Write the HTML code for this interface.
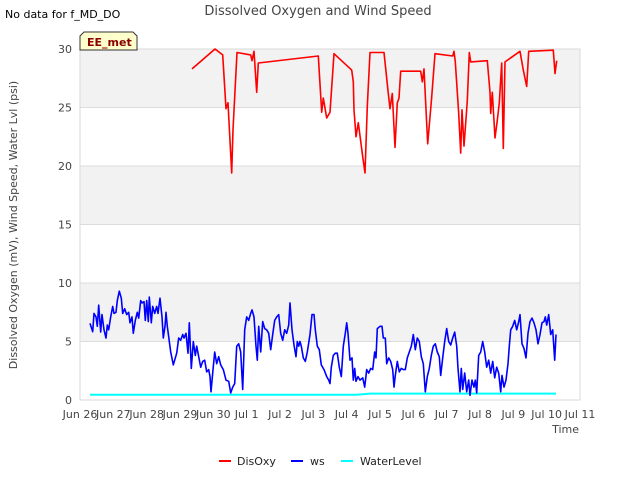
<!DOCTYPE html>
<html><head><meta charset="utf-8"><style>
body{margin:0;background:#fff;font-family:"Liberation Sans","DejaVu Sans",sans-serif}
svg text{font-family:"DejaVu Sans","Liberation Sans",sans-serif}
</style></head><body>
<svg id="c" width="640" height="480" xmlns="http://www.w3.org/2000/svg">
<rect width="640" height="480" fill="#fff"/>
<g id="bands"></g>
<g id="grid"></g>
<rect x="80" y="49" width="500" height="351" fill="none" stroke="#d9d9d9"/>
<g id="ticks"></g>
<g id="series"></g>
<text x="318" y="15" font-size="13" text-anchor="middle" fill="#444">Dissolved Oxygen and Wind Speed</text>
<text x="5" y="18" font-size="11" fill="#000">No data for f_MD_DO</text>
<g>
<path d="M80,50 L80,36 L84,32 L133,32 L137,36 L137,50 Z" fill="#ffffcc" stroke="#333"/>
<text x="87" y="46" font-size="11" font-weight="bold" fill="#8b0000">EE_met</text>
</g>
<text transform="translate(17,225) rotate(-90)" font-size="11" text-anchor="middle" fill="#444">Dissolved Oxygen (mV), Wind Speed, Water Lvl (psi)</text>
<text x="579" y="433" font-size="11" text-anchor="end" fill="#444">Time</text>
<g>
<g><line x1="219" y1="461" x2="231" y2="461" stroke="#f00" stroke-width="2"/><text x="237" y="465" font-size="11" fill="#222">DisOxy</text></g>
<g><line x1="291" y1="461" x2="303" y2="461" stroke="#00f" stroke-width="2"/><text x="310" y="465" font-size="11" fill="#222">ws</text></g>
<g><line x1="341" y1="461" x2="353" y2="461" stroke="#0ff" stroke-width="2"/><text x="360" y="465" font-size="11" fill="#222">WaterLevel</text></g>
</g>
</svg>
<script>
const xTickLabels=["Jun 26","Jun 27","Jun 28","Jun 29","Jun 30","Jul 1","Jul 2","Jul 3","Jul 4","Jul 5","Jul 6","Jul 7","Jul 8","Jul 9","Jul 10","Jul 11"];
const yTicks=[0,5,10,15,20,25,30];
const doDays=[3.36,4.05,4.28,4.38,4.44,4.55,4.59,4.71,5.12,5.16,5.22,5.30,5.35,7.15,7.25,7.30,7.40,7.50,7.62,8.15,8.20,8.22,8.28,8.35,8.48,8.55,8.62,8.70,9.12,9.25,9.30,9.37,9.45,9.52,9.57,9.62,10.22,10.27,10.32,10.43,10.55,10.65,11.18,11.22,11.26,11.36,11.42,11.46,11.52,11.56,11.62,11.68,11.72,12.22,12.30,12.32,12.37,12.45,12.52,12.58,12.65,12.70,12.75,13.20,13.30,13.40,13.46,14.20,14.25,14.30];
const doVals=[28.3,30.0,29.5,24.9,25.4,19.4,23.1,29.7,29.5,29.0,29.8,26.3,28.8,29.4,24.6,25.8,24.1,24.6,29.6,28.2,27.2,24.8,22.5,23.7,20.8,19.4,25.1,29.7,29.7,26.2,24.9,26.2,21.6,25.4,25.8,28.1,28.1,27.2,28.3,21.9,25.9,29.6,29.4,29.8,28.9,24.5,21.1,24.8,21.7,23.2,25.6,29.7,28.9,29.0,26.3,24.5,26.3,22.4,23.9,25.4,28.8,21.5,28.9,29.8,28.2,26.8,29.8,29.9,27.9,29.0];
const wsDays=[0.30,0.38,0.42,0.48,0.52,0.56,0.62,0.66,0.72,0.78,0.82,0.86,0.92,0.98,1.02,1.08,1.12,1.18,1.24,1.28,1.34,1.40,1.46,1.50,1.56,1.60,1.66,1.72,1.76,1.82,1.86,1.92,1.96,2.00,2.05,2.08,2.14,2.18,2.24,2.30,2.34,2.40,2.46,2.50,2.55,2.58,2.62,2.66,2.72,2.80,2.90,2.96,3.02,3.08,3.12,3.18,3.24,3.28,3.34,3.40,3.46,3.50,3.56,3.62,3.68,3.74,3.80,3.86,3.90,3.93,3.98,4.04,4.10,4.16,4.22,4.30,4.38,4.46,4.52,4.58,4.64,4.70,4.76,4.82,4.88,4.94,5.00,5.06,5.12,5.16,5.22,5.28,5.32,5.36,5.42,5.48,5.54,5.60,5.66,5.72,5.78,5.84,5.90,5.96,6.02,6.08,6.14,6.20,6.26,6.30,6.36,6.42,6.48,6.52,6.56,6.60,6.64,6.70,6.76,6.82,6.90,6.96,7.02,7.06,7.12,7.18,7.24,7.32,7.40,7.46,7.50,7.54,7.60,7.66,7.72,7.78,7.84,7.90,7.96,8.00,8.04,8.10,8.16,8.20,8.24,8.28,8.34,8.40,8.48,8.54,8.60,8.66,8.72,8.78,8.84,8.88,8.92,9.00,9.06,9.10,9.16,9.20,9.26,9.32,9.38,9.42,9.46,9.52,9.58,9.64,9.70,9.76,9.82,9.88,9.94,10.00,10.06,10.12,10.18,10.24,10.30,10.36,10.42,10.48,10.54,10.60,10.66,10.72,10.78,10.82,10.88,10.94,11.00,11.06,11.12,11.18,11.24,11.30,11.34,11.40,11.44,11.48,11.54,11.60,11.66,11.70,11.76,11.82,11.86,11.90,11.96,12.02,12.08,12.14,12.20,12.26,12.32,12.38,12.44,12.50,12.56,12.62,12.66,12.72,12.78,12.84,12.88,12.92,12.98,13.04,13.10,13.16,13.20,13.26,13.32,13.38,13.44,13.50,13.56,13.62,13.68,13.74,13.80,13.86,13.92,13.96,14.00,14.06,14.12,14.18,14.24,14.28];
const wsVals=[6.55,5.84,7.4,7.1,6.3,8.1,5.8,7.3,6.0,5.3,6.4,6.0,7.1,8.0,7.4,7.5,8.5,9.3,8.7,7.4,7.8,7.3,7.5,6.6,7.1,5.7,6.8,7.5,7.0,8.5,8.3,8.4,6.8,8.5,6.7,8.8,6.6,8.0,7.4,8.0,7.4,8.7,7.1,5.3,6.3,7.5,6.3,5.4,4.1,3.0,4.0,5.3,5.1,5.6,5.3,5.7,4.0,6.6,2.7,5.0,3.8,4.6,3.7,2.8,3.3,3.4,2.4,2.6,2.0,0.7,2.3,4.1,3.1,3.7,3.0,2.6,1.7,1.6,0.6,1.1,1.4,4.6,4.8,4.1,0.9,6.0,7.1,6.8,7.4,7.7,7.1,4.6,3.4,6.3,4.1,6.7,6.1,6.0,5.7,4.3,5.6,6.8,7.1,7.3,5.7,5.1,6.0,5.7,6.4,8.3,6.0,4.7,3.7,5.0,4.6,5.0,4.6,3.6,3.3,4.1,5.6,7.3,7.3,6.0,4.6,4.3,3.0,2.6,2.0,1.7,1.4,2.8,3.8,4.0,4.0,2.8,2.0,4.6,5.7,6.6,5.7,3.4,3.6,1.7,2.7,1.6,2.0,1.7,1.9,1.1,2.6,2.3,2.7,2.6,4.1,3.6,6.1,6.3,6.3,5.3,5.3,3.1,3.6,3.3,2.6,1.1,2.1,3.3,2.4,2.7,2.6,2.6,3.6,4.1,4.6,5.6,4.3,5.3,5.0,3.7,3.1,0.7,2.0,2.7,3.8,4.6,4.8,4.1,3.7,2.1,3.6,5.0,6.1,5.0,4.7,5.3,5.8,4.6,2.7,0.7,2.7,0.9,2.3,0.7,1.7,0.4,1.7,1.1,1.7,0.6,3.8,4.1,5.0,4.1,2.8,3.4,2.3,3.3,1.9,2.8,2.3,0.7,2.1,1.1,1.7,3.1,4.6,6.0,6.3,6.8,6.0,6.7,7.3,4.8,4.4,3.6,5.7,6.7,7.0,6.6,6.0,4.8,5.6,6.6,6.7,7.1,6.4,7.3,5.6,6.0,3.4,5.6];
const wlDays=[0.30,8.3,8.7,14.28];
const wlVals=[0.45,0.45,0.55,0.55];

const NS="http://www.w3.org/2000/svg";
const X0=80,X1=580,Y0=400,Y1=49,DMAX=15,VMAX=30;
const xs=d=>X0+(X1-X0)*d/DMAX;
const ys=v=>Y0-(Y0-Y1)*v/VMAX;
function mk(tag,attrs,parent){const e=document.createElementNS(NS,tag);for(const k in attrs)e.setAttribute(k,attrs[k]);parent.appendChild(e);return e;}
const bands=document.getElementById('bands'),grid=document.getElementById('grid'),ticks=document.getElementById('ticks'),series=document.getElementById('series');
for(let i=0;i<yTicks.length-1;i++){
  if(i%2===1){const r=mk('rect',{x:X0,y:ys(yTicks[i+1]),width:X1-X0,height:ys(yTicks[i])-ys(yTicks[i+1]),fill:'#f2f2f2'},bands);
  
  }
}
yTicks.forEach(v=>{
  const l=mk('line',{x1:X0,x2:X1,y1:ys(v),y2:ys(v),stroke:'#dcdcdc'},grid);
  
  
  const t=mk('text',{x:X0-8,y:ys(v)+4,'font-size':11,'text-anchor':'end',fill:'#444'},ticks);
  t.textContent=v;
  
  
});
xTickLabels.forEach((s,i)=>{
  const t=mk('text',{x:xs(i),y:418,'font-size':11,'text-anchor':'middle',fill:'#444'},ticks);
  t.textContent=s;
  
  
});
function line(days,vals,color,w,name){
  const p=days.map((d,i)=>(i?'L':'M')+xs(d).toFixed(1)+','+ys(vals[i]).toFixed(1)).join('');
  const e=mk('path',{d:p,fill:'none',stroke:color,'stroke-width':w,'stroke-linejoin':'round'},series);
  
  
}
line(wlDays,wlVals,'#00ffff',2,'waterlevel-line');
line(wsDays,wsVals,'#0000ff',1.6,'ws-line');
line(doDays,doVals,'#ff0000',1.6,'disoxy-line');
</script>
</body></html>
